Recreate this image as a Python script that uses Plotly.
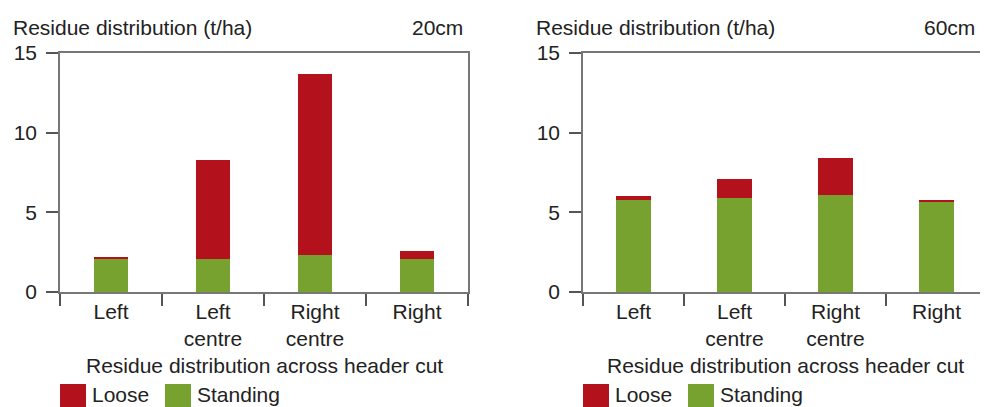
import plotly.graph_objects as go

categories = ["Left", "Left<br>centre", "Right<br>centre", "Right"]
standing_20 = [2.1, 2.1, 2.3, 2.1]
loose_20 = [0.1, 6.2, 11.4, 0.45]
standing_60 = [5.8, 5.9, 6.1, 5.65]
loose_60 = [0.2, 1.2, 2.3, 0.1]
panel_labels = ["20cm", "60cm"]
y_title = "Residue distribution (t/ha)"
x_title = "Residue distribution across header cut"
y_ticks = [0, 5, 10, 15]

RED = "#B3121C"
GREEN = "#78A22F"
TXT = "#222222"
FONT = "Liberation Sans, Arial, sans-serif"
FS = 21
OFF = 8  # page body margin
W, H = 988 - OFF, 407 - OFF

def px(x):
    return (x - OFF) / W

def py(y):
    return 1 - (y - OFF) / H

fig = go.Figure()
for i, (st, lo) in enumerate([(standing_20, loose_20), (standing_60, loose_60)]):
    xa = "x" if i == 0 else "x2"
    ya = "y" if i == 0 else "y2"
    fig.add_trace(go.Bar(x=categories, y=st, marker_color=GREEN, marker_line_width=0,
                         xaxis=xa, yaxis=ya, showlegend=False, name="Standing"))
    fig.add_trace(go.Bar(x=categories, y=lo, marker_color=RED, marker_line_width=0,
                         xaxis=xa, yaxis=ya, showlegend=False, name="Loose"))

panels = [(60, 468), (583, 987)]
label_right = [465, 977]
axis_common = dict(showgrid=False, zeroline=False, showline=True, mirror=True,
                   linecolor="#777777", linewidth=1.5, ticks="outside", ticklen=12,
                   tickcolor="#555555", tickwidth=1.5, automargin=False,
                   tickfont=dict(size=FS, color=TXT, family=FONT))
ydom = [py(292), py(53)]
for i, (x0, x1) in enumerate(panels):
    sfx = "" if i == 0 else "2"
    fig.layout["xaxis" + sfx] = dict(axis_common, domain=[px(x0), px(x1)], type="category",
                                     tickson="boundaries", anchor="y" + sfx,
                                     range=[-0.5, 3.5])
    fig.layout["yaxis" + sfx] = dict(axis_common, domain=ydom, range=[0, 15],
                                     tickvals=y_ticks, anchor="x" + sfx,
                                     ticklabelstandoff=5)

ann = []
shapes = []
for i, (x0, x1) in enumerate(panels):
    ann.append(dict(x=px(x0 - 49), y=py(27), xref="paper", yref="paper", text=y_title,
                    showarrow=False, xanchor="left", yanchor="middle",
                    font=dict(size=FS, color=TXT, family=FONT)))
    ann.append(dict(x=px(label_right[i]), y=py(27), xref="paper", yref="paper",
                    text=panel_labels[i],
                    showarrow=False, xanchor="right", yanchor="middle",
                    font=dict(size=FS, color=TXT, family=FONT)))
    ann.append(dict(x=px((x0 + x1) / 2), y=py(365), xref="paper", yref="paper", text=x_title,
                    showarrow=False, xanchor="center", yanchor="middle",
                    font=dict(size=FS, color=TXT, family=FONT)))
    # legend
    for j, (name, col) in enumerate([("Loose", RED), ("Standing", GREEN)]):
        sx = x0 + j * 105
        shapes.append(dict(type="rect", xref="paper", yref="paper",
                           x0=px(sx), x1=px(sx + 26), y0=py(384), y1=py(412),
                           fillcolor=col, line_width=0))
        ann.append(dict(x=px(sx + 30), y=py(394), xref="paper", yref="paper", text=name,
                        showarrow=False, xanchor="left", yanchor="middle",
                        font=dict(size=FS, color=TXT, family=FONT)))

fig.update_layout(width=W, height=H, margin=dict(l=0, r=0, t=0, b=0),
                  barmode="stack", bargap=0.66, plot_bgcolor="white", paper_bgcolor="white",
                  annotations=ann, shapes=shapes, font=dict(family=FONT, color=TXT))
fig.write_html("out.html")
